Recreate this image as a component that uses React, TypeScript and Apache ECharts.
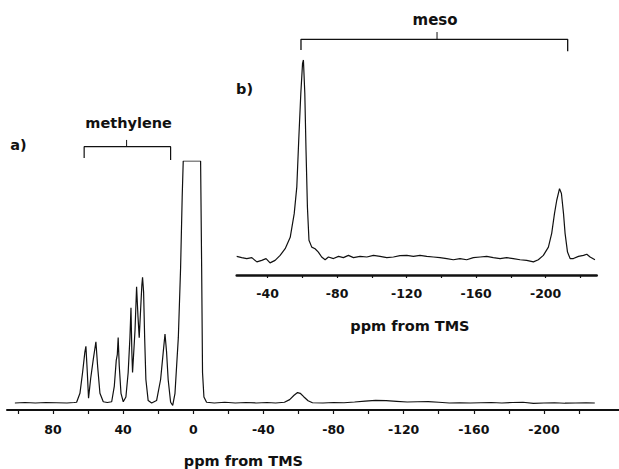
import React, { useEffect, useRef } from "react";
import * as echarts from "echarts";

// ---- main spectrum (a): chemical shift (ppm) and relative intensity (1 = clipped top)
const mainPpm = [
  101.7, 96, 90, 84, 78, 72, 68, 66.5, 64.6, 63.1, 61.8, 61.2, 60.4, 59.7, 58.5, 57.0, 55.5, 54.5, 53.2, 51.3,
  49, 46.5, 45.0, 43.9, 43.3, 42.8, 42.2, 41.2, 39.9, 38.4, 37.1, 36.1, 35.5, 35.0, 34.6, 34.0, 33.2, 32.3,
  31.5, 30.8, 30.0, 29.3, 28.9, 28.3, 27.7, 27.0, 25.7, 23.7, 20.9, 18.6, 17.1, 16.1, 15.2, 14.3, 12.9, 11.7,
  10.4, 8.5, 7.2, 6.3, 5.7, -4.2, -4.8, -5.3, -6.1, -7.6, -12, -18, -24, -30, -36, -42, -47, -52, -55, -57.5,
  -59.5, -61, -63, -65.5, -68, -74, -80, -86, -92, -98, -104, -110, -116, -122, -128, -134, -140, -146, -152,
  -158, -164, -170, -176, -182, -188, -194, -200, -206, -212, -218, -224, -229,
];
const mainInt = [
  0.0, 0.002, 0.0, 0.002, 0.001, 0.0, 0.002, 0.003, 0.04, 0.126, 0.21, 0.234, 0.126, 0.02, 0.1, 0.18, 0.253, 0.15, 0.04, 0.005,
  0.002, 0.005, 0.07, 0.176, 0.2, 0.27, 0.155, 0.04, 0.005, 0.025, 0.126, 0.27, 0.393, 0.21, 0.126, 0.2, 0.3, 0.48,
  0.357, 0.27, 0.386, 0.487, 0.519, 0.458, 0.27, 0.097, 0.01, 0.0, 0.01, 0.097, 0.21, 0.285, 0.21, 0.097, 0.003, -0.01,
  0.04, 0.27, 0.56, 0.85, 1.0, 1.0, 0.56, 0.126, 0.025, 0.003, 0.0, 0.003, 0.0, 0.002, 0.0, 0.002, 0.0, 0.003, 0.014, 0.032,
  0.043, 0.04, 0.026, 0.009, 0.001, 0.0, 0.002, 0.001, 0.004, 0.008, 0.011, 0.01, 0.007, 0.004, 0.005, 0.006, 0.003, 0.0, 0.001,
  0.0, 0.001, 0.002, 0.0, 0.002, 0.003, -0.002, 0.0, 0.001, -0.001, 0.0, 0.001, 0.0,
];

// ---- inset spectrum (b)
const insetPpm = [
  -22.2, -25.1, -28, -30.9, -33.8, -36.6, -39.1, -41.4, -44.3, -47.2, -50.1, -53, -55.3, -56.8, -57.9, -59.1, -60.1,
  -60.6, -61.4, -62.1, -62.9, -63.8, -65.4, -67.3, -69.2, -71.1, -73.1, -75, -77.9, -80.8, -83.6, -86.5, -89.4, -93.2,
  -97.1, -100.9, -104.7, -108.6, -112.4, -116.2, -120.1, -123.9, -127.7, -131.6, -135.4, -139.2, -143.1, -146.9,
  -150.7, -154.6, -158.4, -162.3, -166.1, -169.9, -173.8, -177.6, -181.4, -185.3, -189.1, -193, -195.8, -198.7,
  -201.6, -203.5, -205.1, -206.4, -208, -209.1, -210.3, -211.2, -212.6, -214.1, -216, -218.9, -221.8, -223.7, -225.6, -228.4,
];
const insetInt = [
  0.003, -0.003, -0.008, -0.003, -0.025, -0.017, -0.008, -0.03, -0.017, 0.008, 0.042, 0.1, 0.22, 0.356, 0.593, 0.83, 0.983,
  1.0, 0.83, 0.542, 0.254, 0.085, 0.05, 0.042, 0.025, 0.0, -0.014, 0.0, -0.008, 0.003, -0.003, 0.008, -0.003, 0.003,
  0.0, 0.008, 0.003, -0.003, 0.0, 0.007, 0.008, 0.003, 0.008, 0.003, 0.0, -0.003, -0.008, -0.014,
  -0.008, -0.014, -0.003, 0.0, 0.003, -0.003, -0.008, -0.003, -0.008, -0.014, -0.017, -0.025, -0.014, 0.008,
  0.05, 0.12, 0.22, 0.288, 0.347, 0.322, 0.22, 0.12, 0.025, -0.008, -0.008, 0.003, 0.008, 0.014, 0.0, -0.014,
];

// ---- axis ticks / labels
const mainTicks = [100, 80, 60, 40, 20, 0, -20, -40, -60, -80, -100, -120, -140, -160, -180, -200, -220];
const mainLabels = [80, 40, 0, -40, -80, -120, -160, -200];
const insetTicks = [-40, -60, -80, -100, -120, -140, -160, -180, -200, -220];
const insetLabels = [-40, -80, -120, -160, -200];

// ---- annotation brackets (ppm, intensity in each panel's own scale)
const methyleneBracket = [[62.2, 1.012], [62.2, 1.059], [12.9, 1.059], [12.9, 1.004]];
const methyleneTick = [[38, 1.059], [38, 1.087]];
const mesoBracket = [[-59.2, 1.051], [-59.2, 1.105], [-212.7, 1.105], [-212.7, 1.045]];
const mesoTick = [[-137.5, 1.105], [-137.5, 1.142]];

const FONT = "'DejaVu Sans', 'Liberation Sans', sans-serif";
const INK = "#111";

export default function App() {
  const ref = useRef<HTMLDivElement>(null);
  useEffect(() => {
    if (!ref.current) return;
    const chart = echarts.init(ref.current, null, { renderer: "svg" });
    const zip = (a: number[], b: number[]) => a.map((v, i) => [v, b[i]]);
    const lineSeries = (data: number[][], idx: number, w: number, clip = true) => ({
      type: "line",
      xAxisIndex: idx,
      yAxisIndex: idx,
      data,
      symbol: "none",
      silent: true,
      clip,
      lineStyle: { color: INK, width: w },
    });
    const xAxisBase = (idx: number, min: number, max: number, ticks: number[], labels: number[], lw: number, tl: number, margin: number) => ({
      type: "value",
      gridIndex: idx,
      min,
      max,
      inverse: true,
      splitLine: { show: false },
      axisLine: { show: true, onZero: false, lineStyle: { color: INK, width: lw } },
      axisTick: { show: true, inside: false, length: tl, customValues: ticks, lineStyle: { color: INK, width: 1.2 } },
      axisLabel: {
        show: true,
        customValues: labels,
        margin,
        color: INK,
        fontFamily: FONT,
        fontWeight: "bold",
        fontSize: 12.5,
        formatter: (v: number) => String(v),
      },
    });
    chart.setOption({
      animation: false,
      backgroundColor: "#fff",
      grid: [
        { left: 7, top: 161, width: 612, height: 249 },
        { left: 236.7, top: 60, width: 360, height: 215 },
      ],
      xAxis: [
        xAxisBase(0, -242.8, 106.2, mainTicks, mainLabels, 2, 4, 13),
        xAxisBase(1, -229.4, -22.2, insetTicks, insetLabels, 2.5, 3, 12),
      ],
      yAxis: [
        { type: "value", gridIndex: 0, min: -0.029, max: 1.0, show: false, splitLine: { show: false } },
        { type: "value", gridIndex: 1, min: -0.0914, max: 1.0, show: false, splitLine: { show: false } },
      ],
      series: [
        lineSeries(zip(mainPpm, mainInt), 0, 1.2),
        lineSeries(zip(insetPpm, insetInt), 1, 1.2),
        lineSeries(methyleneBracket, 0, 1.2, false),
        lineSeries(methyleneTick, 0, 1, false),
        lineSeries(mesoBracket, 1, 1.3, false),
        lineSeries(mesoTick, 1, 1, false),
      ],
    });

    const mTop = chart.convertToPixel({ gridIndex: 0 }, methyleneTick[1]) as number[];
    const sTop = chart.convertToPixel({ gridIndex: 1 }, mesoTick[1]) as number[];
    const mainName = chart.convertToPixel({ gridIndex: 0 }, [-28.6, 0]) as number[];
    const insetName = chart.convertToPixel({ gridIndex: 1 }, [-121.9, 0]) as number[];
    const txt = (text: string, x: number, y: number, size: number) => ({
      type: "text",
      x,
      y,
      silent: true,
      style: {
        text,
        fill: INK,
        font: `bold ${size}px ${FONT}`,
        textAlign: "center",
        textVerticalAlign: "middle",
      },
    });
    chart.setOption({
      graphic: [
        txt("methylene", mTop[0] + 2, mTop[1] - 17, 14.5),
        txt("meso", sTop[0] - 2, sTop[1] - 12, 15),
        txt("a)", 18.5, 145, 14.5),
        txt("b)", 244.5, 89, 14.5),
        txt("ppm from TMS", mainName[0], 461, 14.5),
        txt("ppm from TMS", insetName[0], 326, 14.5),
      ],
    });
    return () => chart.dispose();
  }, []);
  return <div ref={ref} style={{ position: "fixed", left: 0, top: 0, width: 619, height: 469, background: "#fff" }} />;
}
